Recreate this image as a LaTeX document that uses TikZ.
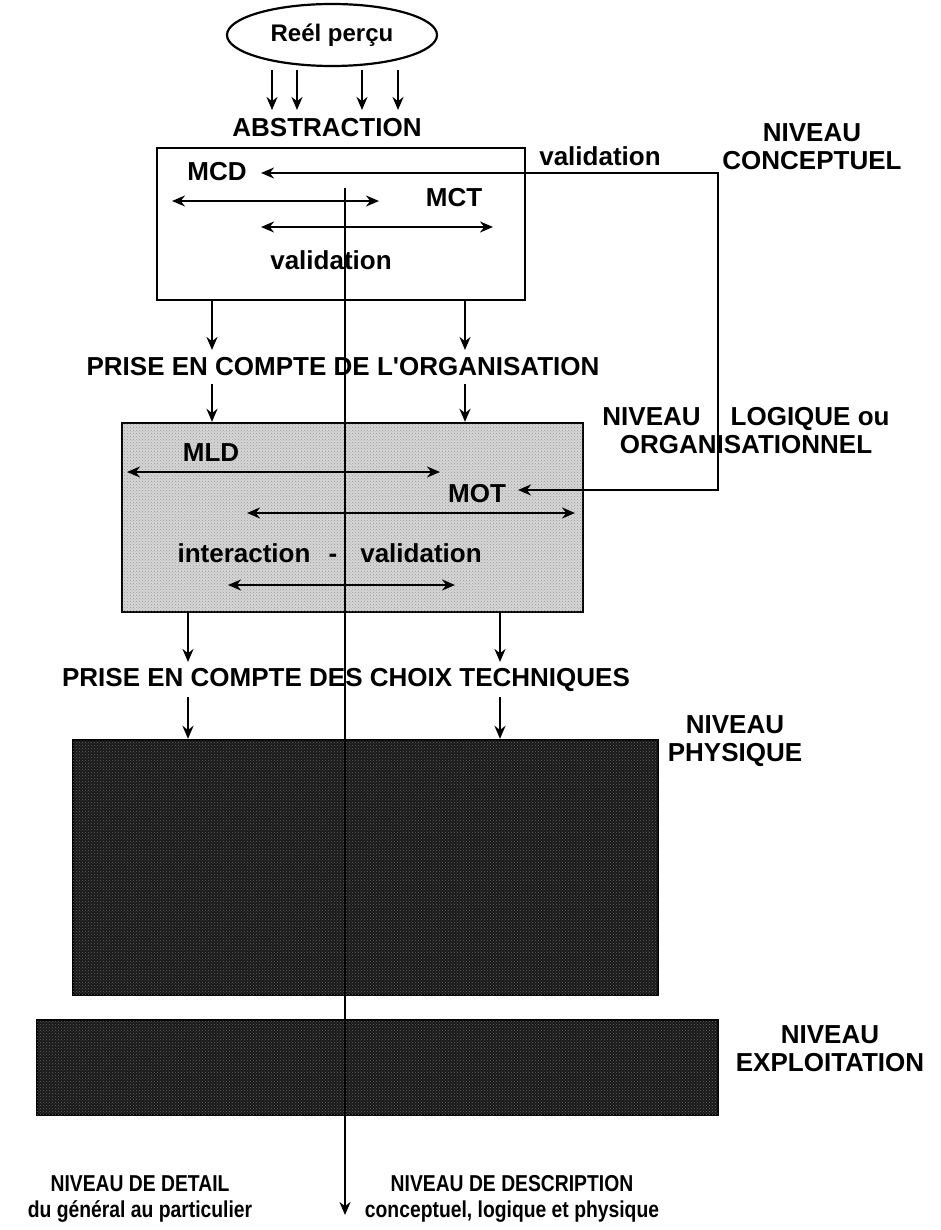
\documentclass[tikz,border=0pt]{standalone}
\usepackage{fontspec}
\setmainfont{Liberation Sans}
\newfontfamily\narrowsans[FakeStretch=0.84]{Liberation Sans}
\usetikzlibrary{arrows.meta,shapes.geometric,positioning,patterns}

\tikzset{
  lbl/.style={font=\bfseries\fontsize{26}{28}\selectfont, inner sep=1pt},
  narrowlbl/.style={font=\narrowsans\bfseries\fontsize{23}{26}\selectfont, inner sep=1pt},
  tip/.style={-{Stealth[length=13pt,width=11pt]}},
  twotip/.style={{Stealth[length=13pt,width=11pt]}-{Stealth[length=13pt,width=11pt]}},
  levelbox/.style={draw, line width=2.4pt, inner sep=0pt},
  lightgrain/.style={fill=black!16, postaction={pattern=crosshatch dots, pattern color=black!40}},
  darkgrain/.style={fill=black!90, postaction={pattern=crosshatch dots, pattern color=black!62}},
}

\begin{document}
\begin{tikzpicture}[x=1pt,y=-1pt,line width=2.2pt]
    \useasboundingbox (0,0) rectangle (941,1230);

    % niveau conceptuel
    \node[ellipse, draw, font=\bfseries\fontsize{24}{26}\selectfont, minimum width=210pt, minimum height=62pt, inner sep=0pt] (reel) at (332,35) {Reél perçu};
    \foreach \x [count=\i] in {272,297,362,398} {
        \coordinate (abs\i a) at (\x,70);
        \coordinate (abs\i b) at (\x,110);
        \draw[tip] (abs\i a) -- (abs\i b);
    }
    \node[lbl] (abstr) at (327,128) {ABSTRACTION};
    \node[levelbox, minimum width=368pt, minimum height=152pt] (concbox) at (341,224) {};
    \node[lbl] (mcd) at (217,172) {MCD};
    \node[lbl] (mct) at (454,198) {MCT};
    \node[lbl] (valc) at (331,260) {validation};
    \coordinate (c1a) at (172,201); \coordinate (c1b) at (379,201);
    \coordinate (c2a) at (261,227); \coordinate (c2b) at (493,227);
    \draw[twotip] (c1a) -- (c1b);
    \draw[twotip] (c2a) -- (c2b);
    \node[lbl, align=center] (nivconc) at (812,147) {NIVEAU\\CONCEPTUEL};

    % prise en compte de l'organisation
    \foreach \x [count=\i] in {212,465} {
        \coordinate (org\i a) at (\x,300);
        \coordinate (org\i b) at (\x,350);
        \coordinate (org\i c) at (\x,384);
        \draw[tip] (org\i a) -- (org\i b);
    }
    \node[lbl] (orga) at (343,367) {PRISE EN COMPTE DE L\textquotesingle ORGANISATION};

    % niveau logique
    \node[levelbox, lightgrain, minimum width=461pt, minimum height=189pt] (logbox) at (352.5,517.5) {};
    \draw[tip] (org1c) -- (org1c |- logbox.north);
    \draw[tip] (org2c) -- (org2c |- logbox.north);
    \node[lbl] (mld) at (211,453) {MLD};
    \node[lbl] (mot) at (477,494) {MOT};
    \node[lbl, anchor=base] (inter) at (244,562) {interaction};
    \node[lbl, anchor=base] (tiret) at (333,562) {-};
    \node[lbl, anchor=base] (vall) at (421,562) {validation};
    \coordinate (l1a) at (127,472); \coordinate (l1b) at (440,472);
    \coordinate (l2a) at (247,513); \coordinate (l2b) at (575,513);
    \coordinate (l3a) at (228,585); \coordinate (l3b) at (455,585);
    \draw[twotip] (l1a) -- (l1b);
    \draw[twotip] (l2a) -- (l2b);
    \draw[twotip] (l3a) -- (l3b);
    \node[lbl, align=center] (nivlog) at (746,431) {NIVEAU\hspace{30pt}LOGIQUE ou\\ORGANISATIONNEL};

    % boucle de validation
    \coordinate (fbmcd) at (261,173);
    \coordinate (fbtop) at (718,173);
    \coordinate (fbbot) at (718,490);
    \coordinate (fbmot) at (518,490);
    \draw[twotip] (fbmcd) -- (fbtop) -- (fbbot) -- (fbmot);
    \node[lbl, anchor=base] (valfb) at (600,166) {validation};

    % prise en compte des choix techniques
    \foreach \x [count=\i] in {188,500} {
        \coordinate (tech\i a) at (\x,612);
        \coordinate (tech\i b) at (\x,662);
        \coordinate (tech\i c) at (\x,697);
        \draw[tip] (tech\i a) -- (tech\i b);
    }
    \node[lbl] (choix) at (346,680) {PRISE EN COMPTE DES CHOIX TECHNIQUES};

    % niveaux physique et exploitation
    \node[levelbox, darkgrain, minimum width=585pt, minimum height=255pt] (phybox) at (365.5,867.5) {};
    \draw[tip] (tech1c) -- (tech1c |- phybox.north);
    \draw[tip] (tech2c) -- (tech2c |- phybox.north);
    \node[lbl, align=center] (nivphy) at (735,741) {NIVEAU\\PHYSIQUE};
    \node[levelbox, darkgrain, minimum width=681pt, minimum height=95pt] (expbox) at (377.5,1067.5) {};
    \node[lbl, align=center] (nivexp) at (830,1049) {NIVEAU\\EXPLOITATION};

    % axe central
    \coordinate (axtop) at (345,188);
    \coordinate (axend) at (345,1215);
    \draw[tip] (axtop) -- (axend);

    \node[narrowlbl, align=center] (detail) at (140,1199) {NIVEAU DE DETAIL\\du général au particulier};
    \node[narrowlbl, align=center] (descr) at (512,1199) {NIVEAU DE DESCRIPTION\\conceptuel, logique et physique};
\end{tikzpicture}
\end{document}
